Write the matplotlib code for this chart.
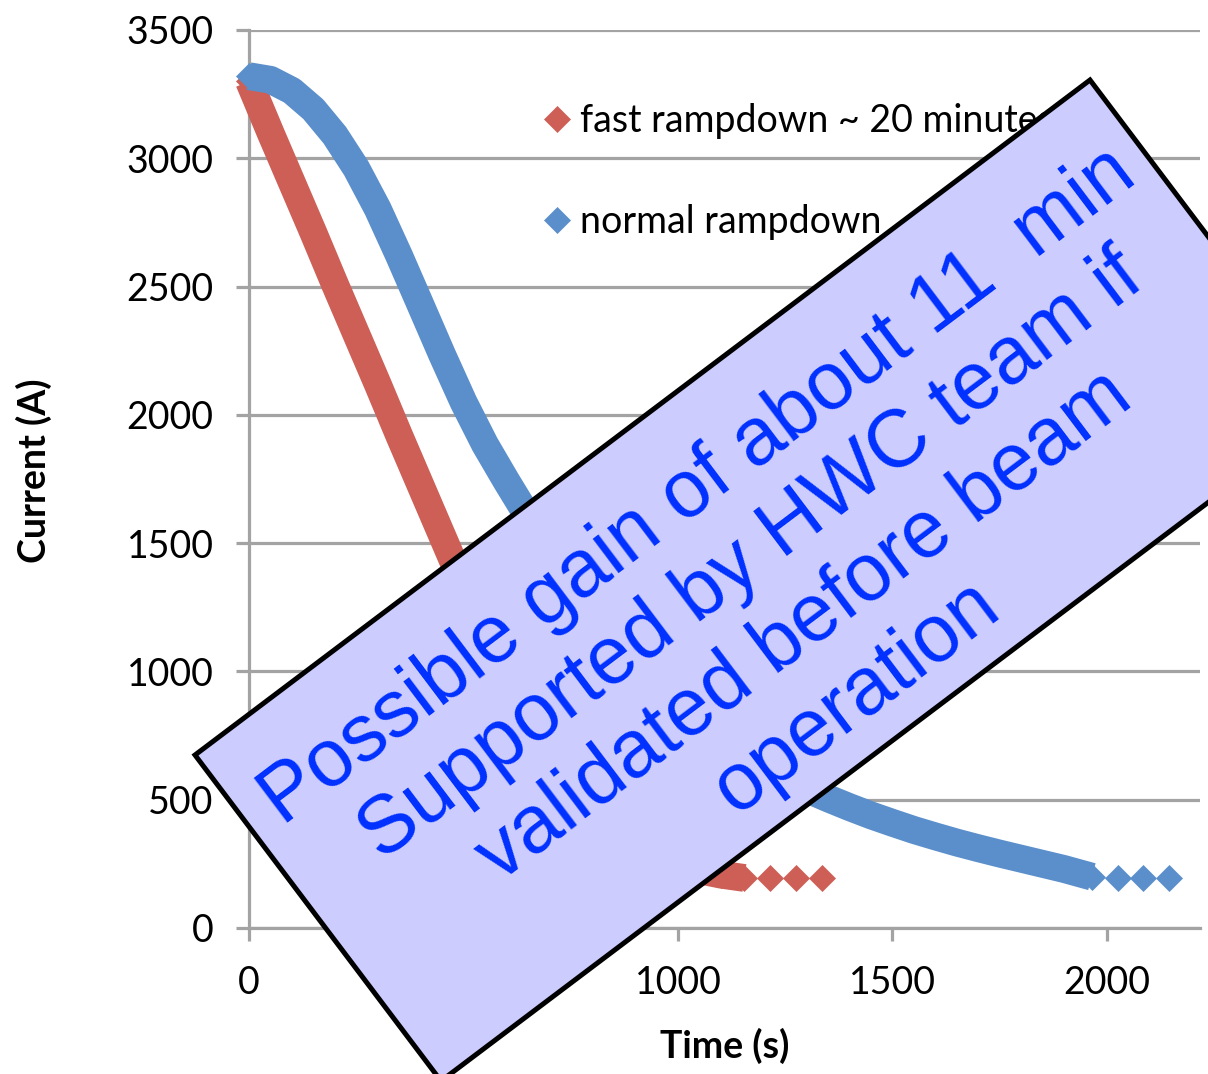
import matplotlib
matplotlib.use('Agg')
import matplotlib.pyplot as plt
from matplotlib.patches import Polygon

# fast rampdown (A vs s), ramp part then the hold points
fast_time = [0, 50, 100, 150, 200, 250, 300, 350, 400, 450, 500, 550, 600, 650,
             700, 750, 800, 850, 900, 950, 1000, 1050, 1100, 1155]
fast_current = [3300, 3100, 2905, 2710, 2510, 2315, 2120, 1920, 1725, 1530, 1335, 1140,
                960, 800, 660, 545, 450, 375, 318, 275, 245, 225, 208, 195]
fast_hold_time = [1215, 1275, 1335]
fast_hold_current = [195, 195, 195]

# normal rampdown
normal_time = [0, 50, 100, 150, 200, 250, 300, 350, 400, 450, 500, 550, 600, 650,
               700, 750, 800, 850, 900, 950, 1000, 1050, 1100, 1150, 1200, 1250,
               1300, 1350, 1400, 1450, 1500, 1550, 1600, 1650, 1700, 1750, 1800,
               1850, 1900, 1965]
normal_current = [3320, 3306, 3263, 3191, 3090, 2961, 2803, 2620, 2428, 2235, 2050,
                  1885, 1742, 1605, 1465, 1339, 1225, 1122, 1029, 945, 869, 800, 738,
                  681, 630, 583, 541, 505, 471, 439, 410, 382, 357, 333, 311, 290,
                  270, 250, 230, 200]
normal_hold_time = [2025, 2085, 2145]
normal_hold_current = [195, 195, 195]

x_ticks = [0, 500, 1000, 1500, 2000]
y_ticks = [0, 500, 1000, 1500, 2000, 2500, 3000, 3500]

plt.rcParams['font.family'] = ['Lato', 'DejaVu Sans']

W, H = 1208, 1074
fig = plt.figure(figsize=(W / 100, H / 100), dpi=100)
ax = fig.add_axes([249 / W, 1 - 928 / H, 951 / W, 898 / H])

red = '#CD5F56'
blue = '#5A8FCB'
grid_c = '#A3A3A3'

series = [
    (fast_time, fast_current, fast_hold_time, fast_hold_current, red,
     'fast rampdown ~ 20 minutes'),
    (normal_time, normal_current, normal_hold_time, normal_hold_current, blue,
     'normal rampdown'),
]
for t, cur, ht, hc, c, lab in series:
    ax.plot(t, cur, color=c, lw=20, solid_capstyle='butt', solid_joinstyle='round',
            marker='D', ms=13.5, mec=c, mew=0.5, clip_on=False, zorder=3)
    ax.plot(ht, hc, ls='none', marker='D', ms=13.5, color=c, mec=c, mew=0.5,
            label=lab, clip_on=False, zorder=3)

ax.set_xlim(0, 2217)
ax.set_ylim(0, 3500)
ax.set_xticks(x_ticks)
ax.set_yticks(y_ticks)
ax.grid(axis='y', color=grid_c, lw=2.3)
ax.set_axisbelow(True)
for s in ['top', 'right']:
    ax.spines[s].set_visible(False)
for s in ['left', 'bottom']:
    ax.spines[s].set_color(grid_c)
    ax.spines[s].set_linewidth(2.3)
ax.tick_params(axis='both', direction='out', length=9.4, width=2.3, color=grid_c,
               labelsize=27)
ax.tick_params(axis='y', pad=16)
ax.tick_params(axis='x', pad=17)

ax.set_xlabel('Time (s)', fontsize=27, fontweight='bold')
ax.set_ylabel('Current (A)', fontsize=27, fontweight='bold')
ax.xaxis.set_label_coords(0.5, -0.111)
ax.yaxis.set_label_coords(-0.207, 0.509)

ax.legend(loc='upper left', bbox_to_anchor=(543 / W, 1 - 103 / H),
          bbox_transform=fig.transFigure, frameon=False, fontsize=27,
          handlelength=0.75, handletextpad=0.25, borderpad=0, borderaxespad=0,
          labelspacing=1.74)

# rotated note box on top of everything, in pixel coordinates
ov = fig.add_axes([0, 0, 1, 1], zorder=10)
ov.set_xlim(0, W)
ov.set_ylim(H, 0)
ov.axis('off')
corners = [(195, 755), (1090, 80), (1336, 406), (441, 1081)]
ov.add_patch(Polygon(corners, closed=True, fc='#CCCCFF', ec='black', lw=3.6,
                     clip_on=False))
ov.text(778, 592,
        "Possible gain of about 11  min\nSupported by HWC team if\n"
        "validated before beam\noperation",
        rotation=37, rotation_mode='anchor', ha='center', va='center',
        multialignment='center', fontsize=58, color='#0030FF',
        family=['Liberation Sans', 'DejaVu Sans'], linespacing=1.2)

fig.savefig('out.png', dpi=100)
